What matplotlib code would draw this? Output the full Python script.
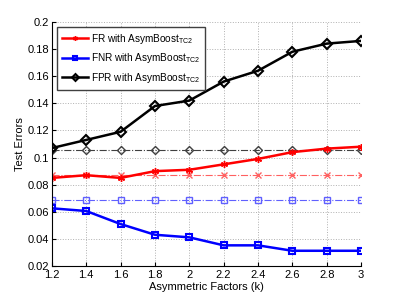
import matplotlib
matplotlib.use("Agg")
import matplotlib.pyplot as plt

plt.rcParams['font.family'] = ['Liberation Sans', 'DejaVu Sans']
plt.rcParams['mathtext.fontset'] = 'custom'
plt.rcParams['mathtext.rm'] = 'Liberation Sans'

k = [1.2, 1.4, 1.6, 1.8, 2.0, 2.2, 2.4, 2.6, 2.8, 3.0]
fr = [0.085, 0.087, 0.085, 0.090, 0.091, 0.095, 0.099, 0.104, 0.1066, 0.108]
fnr = [0.0626, 0.0606, 0.051, 0.0431, 0.0412, 0.0353, 0.0353, 0.0313, 0.0313, 0.0313]
fpr = [0.107, 0.113, 0.119, 0.138, 0.142, 0.156, 0.164, 0.178, 0.184, 0.186]
fr_base = [0.087] * 10
fnr_base = [0.0685] * 10
fpr_base = [0.1055] * 10

fig = plt.figure(figsize=(3.99, 3.0), dpi=100)
ax = fig.add_axes([0.13, 0.113, 0.775, 0.814])

ax.plot(k, fr_base, color='#ff6060', ls='-.', lw=0.8, marker='x', ms=4, mfc='none')
ax.plot(k, fnr_base, color='#6060ff', ls='-.', lw=0.8, marker='s', ms=4, mfc='none')
ax.plot(k, fpr_base, color='#404040', ls='-.', lw=0.8, marker='D', ms=4, mfc='none')

ax.plot(k, fr, color='red', lw=1.8, marker=(6, 2, 0), ms=5, mew=1.0,
        label='FR with AsymBoost$_{\\mathrm{TC2}}$')
ax.plot(k, fnr, color='blue', lw=1.8, marker='s', ms=5, mew=1.5, mfc='none',
        label='FNR with AsymBoost$_{\\mathrm{TC2}}$')
ax.plot(k, fpr, color='black', lw=1.8, marker='D', ms=5, mew=1.5, mfc='none',
        label='FPR with AsymBoost$_{\\mathrm{TC2}}$')

ax.set_xlim(1.2, 3.0)
ax.set_ylim(0.02, 0.2)
ax.set_xticks(k)
ax.set_xticklabels(['1.2', '1.4', '1.6', '1.8', '2', '2.2', '2.4', '2.6', '2.8', '3'])
ax.set_yticks([0.02, 0.04, 0.06, 0.08, 0.1, 0.12, 0.14, 0.16, 0.18, 0.2])
ax.set_yticklabels(['0.02', '0.04', '0.06', '0.08', '0.1', '0.12', '0.14', '0.16', '0.18', '0.2'])
ax.tick_params(direction='in', labelsize=8, length=3, pad=2)
ax.tick_params(axis='x', pad=3)
ax.grid(True, ls=':', color='#b0b0b0', lw=0.7)
ax.spines['top'].set_visible(False)
ax.spines['right'].set_visible(False)
ax.set_xlabel('Asymmetric Factors (k)', fontsize=8, labelpad=1)
ax.set_ylabel('Test Errors', fontsize=8, labelpad=2)

leg = ax.legend(loc='upper left', fontsize=7.2, fancybox=False, edgecolor='#404040',
                framealpha=1, borderaxespad=0.5, handlelength=2.6, handletextpad=0.3,
                labelspacing=0.55, markerscale=0.7, borderpad=0.5)
leg.get_frame().set_linewidth(1.0)

fig.savefig('out.png', dpi=100)
